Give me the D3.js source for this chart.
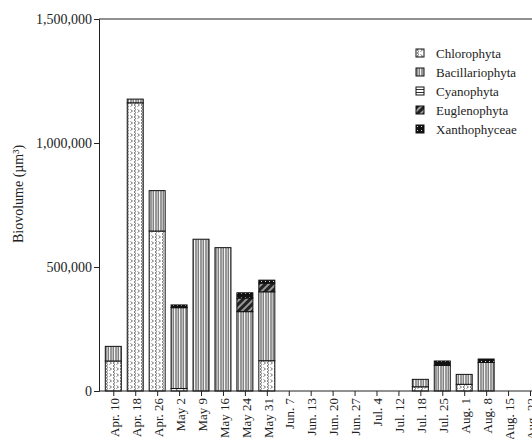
<!DOCTYPE html>
<html>
<head>
<meta charset="utf-8">
<script src="https://cdn.jsdelivr.net/npm/d3@7"></script>
<style>
  body { margin: 0; background: #fff; }
  text { font-family: "Liberation Serif", "Times New Roman", serif; fill: #222; }
</style>
</head>
<body>
<div id="chart"></div>
<script>
var canvasWidth = 532;
var canvasHeight = 439;

/*Sampling dates*/
var dates = ["Apr. 10","Apr. 18","Apr. 26","May 2","May 9","May 16","May 24","May 31",
  "Jun. 7","Jun. 13","Jun. 20","Jun. 27","Jul. 4","Jul. 12","Jul. 18","Jul. 25",
  "Aug. 1","Aug. 8","Aug. 15","Aug. 22"];

/*Biovolume per group (um^3)*/
var chlorophyta     = [121000,1162000,645000,10000,0,0,0,122000,0,0,0,0,0,0,17000,0,27000,0,0,0];
var bacillariophyta = [59000,15000,163000,326000,612000,578000,320000,278000,0,0,0,0,0,0,30000,103000,40000,115000,0,0];
var cyanophyta      = [0,0,0,0,0,0,0,0,0,0,0,0,0,0,0,0,0,0,0,0];
var euglenophyta    = [0,0,0,0,0,0,55000,35000,0,0,0,0,0,0,0,0,0,0,0,0];
var xanthophyceae   = [0,0,0,11000,0,0,21000,12000,0,0,0,0,0,0,0,18000,0,14000,0,0];

var groups = ["Chlorophyta","Bacillariophyta","Cyanophyta","Euglenophyta","Xanthophyceae"];
var series = [chlorophyta, bacillariophyta, cyanophyta, euglenophyta, xanthophyceae];
var yTicks = [0, 500000, 1000000, 1500000];

var svg = d3.select("#chart").append("svg")
    .attr("width", canvasWidth)
    .attr("height", canvasHeight);

/*Patterns for each group*/
var defs = svg.append("defs");

var p0 = defs.append("pattern").attr("id","pat0").attr("patternUnits","userSpaceOnUse")
    .attr("width",7).attr("height",6);
p0.append("rect").attr("width",7).attr("height",6).attr("fill","#fff");
p0.append("path").attr("d","M1,0 L3,1.5 L1,3 L3,4.5 L1,6 M4.5,1.5 L6.5,3 L4.5,4.5")
    .attr("fill","none").attr("stroke","#777").attr("stroke-width",1);

var p1 = defs.append("pattern").attr("id","pat1").attr("patternUnits","userSpaceOnUse")
    .attr("width",5).attr("height",5);
p1.append("rect").attr("width",5).attr("height",5).attr("fill","#fff");
p1.append("rect").attr("x",0.5).attr("width",1).attr("height",5).attr("fill","#333");
p1.append("rect").attr("x",2.5).attr("width",1.6).attr("height",5).attr("fill","#808080");

var p2 = defs.append("pattern").attr("id","pat2").attr("patternUnits","userSpaceOnUse")
    .attr("width",4).attr("height",3);
p2.append("rect").attr("width",4).attr("height",3).attr("fill","#fff");
p2.append("rect").attr("y",1).attr("width",4).attr("height",1).attr("fill","#333");

var p3 = defs.append("pattern").attr("id","pat3").attr("patternUnits","userSpaceOnUse")
    .attr("width",5).attr("height",5).attr("patternTransform","rotate(45)");
p3.append("rect").attr("width",5).attr("height",5).attr("fill","#222");
p3.append("rect").attr("x",0).attr("width",2).attr("height",5).attr("fill","#999");

var p4 = defs.append("pattern").attr("id","pat4").attr("patternUnits","userSpaceOnUse")
    .attr("width",4).attr("height",4);
p4.append("rect").attr("width",4).attr("height",4).attr("fill","#111");
p4.append("rect").attr("x",1).attr("y",1).attr("width",1).attr("height",1).attr("fill","#ddd");

/*Scales*/
var x0 = 99, yTop = 19, yBottom = 391;
var xScale = d3.scalePoint().domain(dates).range([113.3, 530]);
var yScale = d3.scaleLinear().domain([0, 1500000]).range([yBottom, yTop]);
var barWidth = 16;

/*Stack the groups*/
var table = dates.map(function (d, i) {
    var row = {date: d};
    groups.forEach(function (g, k) { row[g] = series[k][i]; });
    return row;
});
var stacked = d3.stack().keys(groups)(table);

var layers = svg.selectAll(".layer")
    .data(stacked)
    .join("g")
    .attr("class","layer")
    .attr("fill", function (d, k) { return "url(#pat" + k + ")"; });

layers.selectAll("rect")
    .data(function (d) { return d.filter(function (s) { return s[1] - s[0] > 0; }); })
    .join("rect")
    .attr("x", function (d) { return xScale(d.data.date) - barWidth / 2; })
    .attr("y", function (d) { return yScale(d[1]); })
    .attr("width", barWidth)
    .attr("height", function (d) { return yScale(d[0]) - yScale(d[1]); })
    .attr("stroke", "#111")
    .attr("stroke-width", 1);

/*Frame lines (right side is cut off)*/
svg.append("line").attr("x1",x0).attr("x2",canvasWidth).attr("y1",yTop).attr("y2",yTop)
    .attr("stroke","#222");
svg.append("line").attr("x1",x0).attr("x2",canvasWidth).attr("y1",yBottom).attr("y2",yBottom)
    .attr("stroke","#222");

/*Y axis*/
var yAxis = svg.append("g")
    .attr("transform","translate(" + x0 + ",0)")
    .call(d3.axisLeft(yScale).tickValues(yTicks).tickSize(5).tickPadding(2)
        .tickFormat(d3.format(",")));
yAxis.select(".domain").attr("stroke","#222");
yAxis.selectAll(".tick line").attr("stroke","#222");
yAxis.selectAll("text").style("font-size","14px").attr("fill","#222")
    .style("font-family","Liberation Serif");

/*X axis*/
var xAxis = svg.append("g")
    .attr("transform","translate(0," + yBottom + ")")
    .call(d3.axisBottom(xScale).tickSize(5).tickSizeOuter(0));
xAxis.select(".domain").remove();
xAxis.selectAll(".tick line").attr("stroke","#222");
xAxis.selectAll("text")
    .style("font-size","13px").attr("fill","#222")
    .style("font-family","Liberation Serif")
    .attr("text-anchor","end")
    .attr("transform","rotate(-90)")
    .attr("x",-7).attr("y",0).attr("dy","0.4em");

/*Y axis title*/
svg.append("text")
    .attr("transform","translate(23,194) rotate(-90)")
    .attr("text-anchor","middle")
    .style("font-size","14px")
    .text("Biovolume (\u00b5m\u00b3)");

/*Legend*/
var legend = svg.append("g").attr("transform","translate(416,53)");
var item = legend.selectAll("g")
    .data(groups)
    .join("g")
    .attr("transform", function (d, k) { return "translate(0," + (k * 19) + ")"; });
item.append("rect")
    .attr("x",0).attr("y",-4).attr("width",8).attr("height",8)
    .attr("fill", function (d, k) { return "url(#pat" + k + ")"; })
    .attr("stroke","#111");
item.append("text")
    .attr("x",20).attr("y",0).attr("dy","0.35em")
    .style("font-size","13px")
    .text(function (d) { return d; });
</script>
</body>
</html>
